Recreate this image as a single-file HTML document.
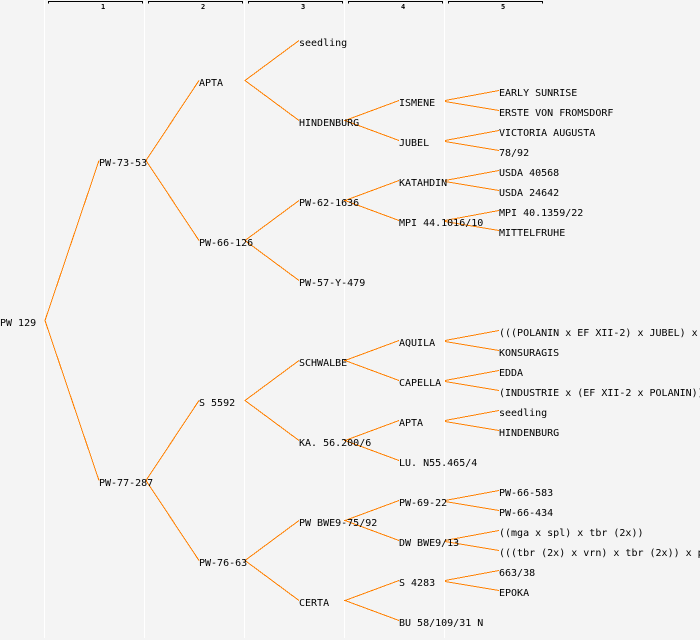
<!DOCTYPE html>
<html><head><meta charset="utf-8"><style>
html,body{margin:0;padding:0;background:#f4f4f4;width:700px;height:640px;overflow:hidden}
svg{display:block}
text{font-family:"DejaVu Sans Mono","Liberation Mono",monospace;font-size:10px;fill:#000}
.n text{font-size:7px;font-weight:bold}
</style></head><body>
<svg width="700" height="640" viewBox="0 0 700 640" xmlns="http://www.w3.org/2000/svg">
<rect width="700" height="640" fill="#f4f4f4"/>
<g fill="#fff" shape-rendering="crispEdges">
<rect x="44" y="0" width="1" height="638"/><rect x="144" y="0" width="1" height="638"/><rect x="244" y="0" width="1" height="638"/><rect x="344" y="0" width="1" height="638"/><rect x="444" y="0" width="1" height="638"/>
</g>
<g fill="none" stroke="#000" shape-rendering="crispEdges">
<path d="M48.5 3.5V1.5H142.5V3.5"/><path d="M148.5 3.5V1.5H242.5V3.5"/><path d="M248.5 3.5V1.5H342.5V3.5"/><path d="M348.5 3.5V1.5H442.5V3.5"/><path d="M448.5 3.5V1.5H542.5V3.5"/>
</g>
<g class="n"><text x="101" y="9">1</text><text x="201" y="9">2</text><text x="301" y="9">3</text><text x="401" y="9">4</text><text x="501" y="9">5</text></g>
<g fill="none" stroke="#ff8000" stroke-width="1" shape-rendering="crispEdges" transform="translate(0,-0.5)">
<path d="M99 161L45 321L99 481"/>
<path d="M199 81L146 161L199 241"/>
<path d="M199 401L146 481L199 561"/>
<path d="M299 41L245 81L299 121"/>
<path d="M299 201L245 241L299 281"/>
<path d="M299 361L245 401L299 441"/>
<path d="M299 521L245 561L299 601"/>
<path d="M399 101L345 121L399 141"/>
<path d="M399 181L345 201L399 221"/>
<path d="M399 341L345 361L399 381"/>
<path d="M399 421L345 441L399 461"/>
<path d="M399 501L345 521L399 541"/>
<path d="M399 581L345 601L399 621"/>
<path d="M499 91L445 101M445 102L499 111"/>
<path d="M499 131L445 141M445 142L499 151"/>
<path d="M499 171L445 181M445 182L499 191"/>
<path d="M499 211L445 221M445 222L499 231"/>
<path d="M499 331L445 341M445 342L499 351"/>
<path d="M499 371L445 381M445 382L499 391"/>
<path d="M499 411L445 421M445 422L499 431"/>
<path d="M499 491L445 501M445 502L499 511"/>
<path d="M499 531L445 541M445 542L499 551"/>
<path d="M499 571L445 581M445 582L499 591"/>
</g>
<text x="0" y="326">PW 129</text>
<text x="99" y="166">PW-73-53</text>
<text x="99" y="486">PW-77-287</text>
<text x="199" y="86">APTA</text>
<text x="199" y="246">PW-66-126</text>
<text x="199" y="406">S 5592</text>
<text x="199" y="566">PW-76-63</text>
<text x="299" y="46">seedling</text>
<text x="299" y="126">HINDENBURG</text>
<text x="299" y="206">PW-62-1636</text>
<text x="299" y="286">PW-57-Y-479</text>
<text x="299" y="366">SCHWALBE</text>
<text x="299" y="446">KA. 56.200/6</text>
<text x="299" y="526">PW BWE9-75/92</text>
<text x="299" y="606">CERTA</text>
<text x="399" y="106">ISMENE</text>
<text x="399" y="146">JUBEL</text>
<text x="399" y="186">KATAHDIN</text>
<text x="399" y="226">MPI 44.1016/10</text>
<text x="399" y="346">AQUILA</text>
<text x="399" y="386">CAPELLA</text>
<text x="399" y="426">APTA</text>
<text x="399" y="466">LU. N55.465/4</text>
<text x="399" y="506">PW-69-22</text>
<text x="399" y="546">DW BWE9/13</text>
<text x="399" y="586">S 4283</text>
<text x="399" y="626">BU 58/109/31 N</text>
<text x="499" y="96">EARLY SUNRISE</text>
<text x="499" y="116">ERSTE VON FROMSDORF</text>
<text x="499" y="136">VICTORIA AUGUSTA</text>
<text x="499" y="156">78/92</text>
<text x="499" y="176">USDA 40568</text>
<text x="499" y="196">USDA 24642</text>
<text x="499" y="216">MPI 40.1359/22</text>
<text x="499" y="236">MITTELFRUHE</text>
<text x="499" y="336">(((POLANIN x EF XII-2) x JUBEL) x</text>
<text x="499" y="356">KONSURAGIS</text>
<text x="499" y="376">EDDA</text>
<text x="499" y="396">(INDUSTRIE x (EF XII-2 x POLANIN))</text>
<text x="499" y="416">seedling</text>
<text x="499" y="436">HINDENBURG</text>
<text x="499" y="496">PW-66-583</text>
<text x="499" y="516">PW-66-434</text>
<text x="499" y="536">((mga x spl) x tbr (2x))</text>
<text x="499" y="556">(((tbr (2x) x vrn) x tbr (2x)) x p</text>
<text x="499" y="576">663/38</text>
<text x="499" y="596">EPOKA</text>
</svg>
</body></html>
